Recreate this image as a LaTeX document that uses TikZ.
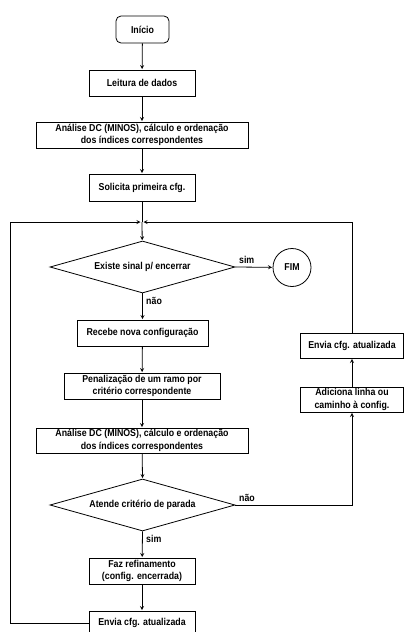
\documentclass[tikz,border=0pt]{standalone}
\usepackage{fontspec}
\setmainfont{Liberation Sans}[FakeStretch=0.88]
\usetikzlibrary{shapes.geometric,positioning}

\begin{document}
\begin{tikzpicture}[
        >=stealth,
        x=1pt, y=-1pt,
        line width=0.8pt,
        every node/.style={font=\bfseries\fontsize{10}{12.5}\selectfont},
        proc/.style={draw, rectangle, minimum height=26pt, align=center, inner sep=1pt},
        inicio/.style={draw, rectangle, rounded corners=5pt, minimum width=53pt, minimum height=27pt},
        decisao/.style={draw, diamond, aspect=3.56, minimum width=185pt, minimum height=52pt, inner sep=0pt},
        fim/.style={draw, circle, minimum size=38pt, inner sep=0pt},
        fluxo/.style={draw, ->, shorten >=0.5pt}
    ]
        \useasboundingbox (0,0) rectangle (405,632);

        % coluna principal
        \node[inicio] (I) at (142.5,29.5) {Início};
        \node[proc, minimum width=106pt] (L) at (142,83) {Leitura de dados};
        \node[proc, minimum width=212pt] (A1) at (142,135) {Análise DC (MINOS), cálculo e ordenação\\dos índices correspondentes};
        \node[proc, minimum width=106pt, minimum height=27pt] (S) at (142,187.5) {Solicita primeira cfg.};
        \coordinate (J) at (142,222);
        \node[decisao] (D1) at (142.5,267) {Existe sinal p/ encerrar};
        \node[fim] (F) at (292,267.5) {FIM};
        \node[proc, minimum width=131pt] (R) at (142.5,333) {Recebe nova configuração};
        \node[proc, minimum width=156pt] (P) at (142,386) {Penalização de um ramo por\\critério correspondente};
        \node[proc, minimum width=212pt, minimum height=25pt] (A2) at (142,440.5) {Análise DC (MINOS), cálculo e ordenação\\dos índices correspondentes};
        \node[decisao] (D2) at (142.5,505) {Atende critério de parada};
        \node[proc, minimum width=106pt] (Z) at (142,571) {Faz refinamento\\(config. encerrada)};
        \node[proc, minimum width=106pt, minimum height=24pt] (E1) at (142,623) {Envia cfg. atualizada};

        % coluna da direita
        \node[proc, minimum width=103pt, minimum height=25pt] (AD) at (352,399.5) {Adiciona linha ou\\caminho à config.};
        \node[proc, minimum width=103pt, minimum height=25pt] (E2) at (352,345.5) {Envia cfg. atualizada};
        \coordinate (CE) at (10,222);

        \path[fluxo] (I) -- (L);
        \path[fluxo] (L) -- (A1);
        \path[fluxo] (A1) -- (S);
        \draw (S) -- (J);
        \path[fluxo] (J) -- (D1);
        \path[fluxo] (D1.east) -- node[above right, at start] {sim} (F);
        \path[fluxo] (D1.south) -- node[below right, at start] {não} (R);
        \path[fluxo] (R) -- (P);
        \path[fluxo] (P) -- (A2);
        \path[fluxo] (A2) -- (D2.north);
        \path[fluxo] (D2.south) -- node[below right, at start] {sim} (Z);
        \path[fluxo] (Z) -- (E1);
        \path[fluxo] (D2.east) -| node[above right, at start] {não} (AD.south);
        \path[fluxo] (AD) -- (E2);

        % laços de retorno
        \path[fluxo] (E1.west) -| (CE) -- ([xshift=-1pt]J);
        \path[fluxo] (E2.north) |- ([xshift=1pt]J);
    \end{tikzpicture}
\end{document}
